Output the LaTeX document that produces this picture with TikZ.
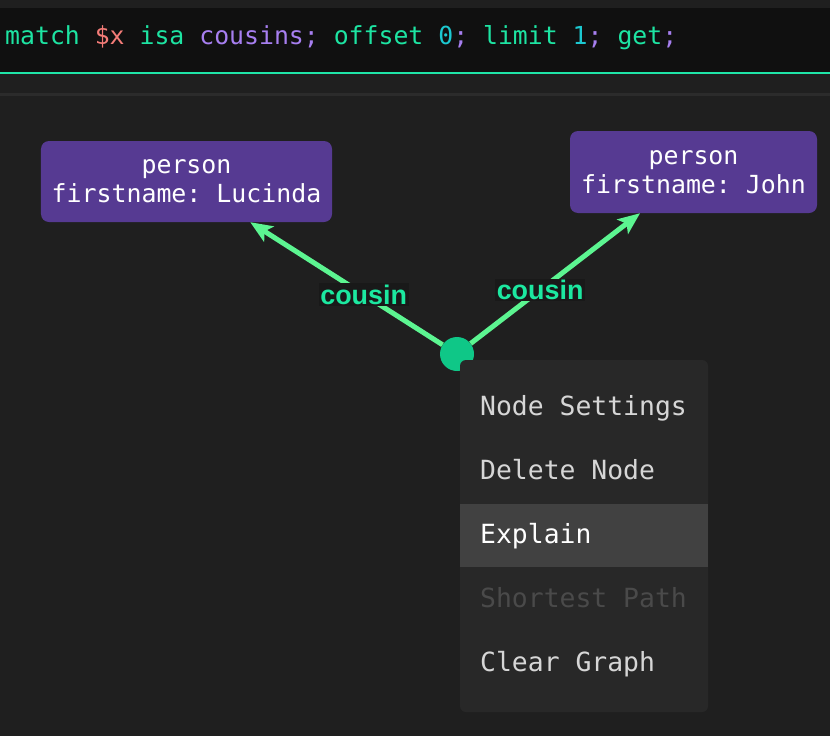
\documentclass[tikz,border=0pt]{standalone}
\usepackage{xcolor}
\usepackage{fontspec}
\setmonofont{DejaVu Sans Mono}
\newfontfamily\labelfont{Liberation Sans}
\usepackage{tikz}
\usetikzlibrary{arrows.meta}
\definecolor{canvas}{HTML}{1F1F1F}
\definecolor{editor}{HTML}{101010}
\definecolor{divider}{HTML}{2B2B2B}
\definecolor{accent}{HTML}{1FE5A8}
\definecolor{kwgreen}{HTML}{1DE4A2}
\definecolor{varred}{HTML}{F47C78}
\definecolor{typepurple}{HTML}{A77FF0}
\definecolor{numcyan}{HTML}{1CC8D0}
\definecolor{personfill}{HTML}{563A92}
\definecolor{relfill}{HTML}{0FC787}
\definecolor{edgegreen}{HTML}{5CF591}
\definecolor{labelgreen}{HTML}{1CE8A0}
\definecolor{labelback}{HTML}{191919}
\definecolor{menufill}{HTML}{282828}
\definecolor{menuhover}{HTML}{414141}
\definecolor{menutext}{HTML}{D6D6D6}
\definecolor{menugrey}{HTML}{4A4A4A}
\tikzset{
  BaseNode/.style = {align=center, inner sep=0pt, text centered},
  CodeText/.style = {BaseNode, anchor=base west, font=\ttfamily\fontsize{24.9}{29}\selectfont},
  PersonNode/.style = {BaseNode, rectangle, rounded corners=8bp, fill=personfill, text=white,
                       font=\ttfamily\fontsize{25}{29}\selectfont},
  RelNode/.style = {BaseNode, circle, fill=relfill, minimum size=34bp},
  EdgeLabel/.style = {BaseNode, inner sep=1.5bp, fill=labelback, text=labelgreen,
                      font=\labelfont\bfseries\fontsize{27}{30}\selectfont},
  Relation/.style = {edgegreen, line width=5bp, -{Stealth[length=22bp,width=18bp,inset=5bp]}},
  MenuBox/.style = {BaseNode, rectangle, rounded corners=6bp, fill=menufill},
  MenuItem/.style = {BaseNode, anchor=base west, text=menutext, font=\ttfamily\fontsize{26.5}{30}\selectfont},
}

\begin{document}
\begin{tikzpicture}[x=1bp, y=-1bp]
    \useasboundingbox (0,0) rectangle (830,736);
    % background and query bar
    \fill [canvas] (0,0) rectangle (830,736);
    \fill [editor] (0,8) rectangle (830,72);
    \fill [accent] (0,72) rectangle (830,74.5);
    \fill [divider] (0,93) rectangle (830,95.5);
    \node [CodeText] (query) at (5,45) {\textcolor{kwgreen}{match} \textcolor{varred}{\$x} \textcolor{kwgreen}{isa} \textcolor{typepurple}{cousins;} \textcolor{kwgreen}{offset} \textcolor{numcyan}{0}\textcolor{typepurple}{;} \textcolor{kwgreen}{limit} \textcolor{numcyan}{1}\textcolor{typepurple}{;} \textcolor{kwgreen}{get}\textcolor{typepurple}{;}};

    % graph
    \node [PersonNode, minimum width=291bp, minimum height=81bp] (lucinda) at (186.5,181.5) {person\\firstname: Lucinda};
    \node [PersonNode, minimum width=247bp, minimum height=82bp] (john) at (693.5,172) {person\\firstname: John};
    \node [RelNode] (cousins) at (457,354) {};
    \draw [Relation] (cousins) -- node [EdgeLabel, pos=0.41] (cousinA) {cousin} (lucinda);
    \draw [Relation] (cousins) -- node [EdgeLabel, pos=0.41] (cousinB) {cousin} (john);

    % context menu
    \node [MenuBox, minimum width=248bp, minimum height=352bp] (menu) at (584,536) {};
    \fill [menuhover] (menu.west |- 0,504) rectangle (menu.east |- 0,567);
    \node [MenuItem] (settings) at (480,415) {Node Settings};
    \node [MenuItem] (delete) at (480,479) {Delete Node};
    \node [MenuItem, text=white] (explain) at (480,543) {Explain};
    \node [MenuItem, text=menugrey] (shortest) at (480,607) {Shortest Path};
    \node [MenuItem] (clear) at (480,671) {Clear Graph};
\end{tikzpicture}
\end{document}
